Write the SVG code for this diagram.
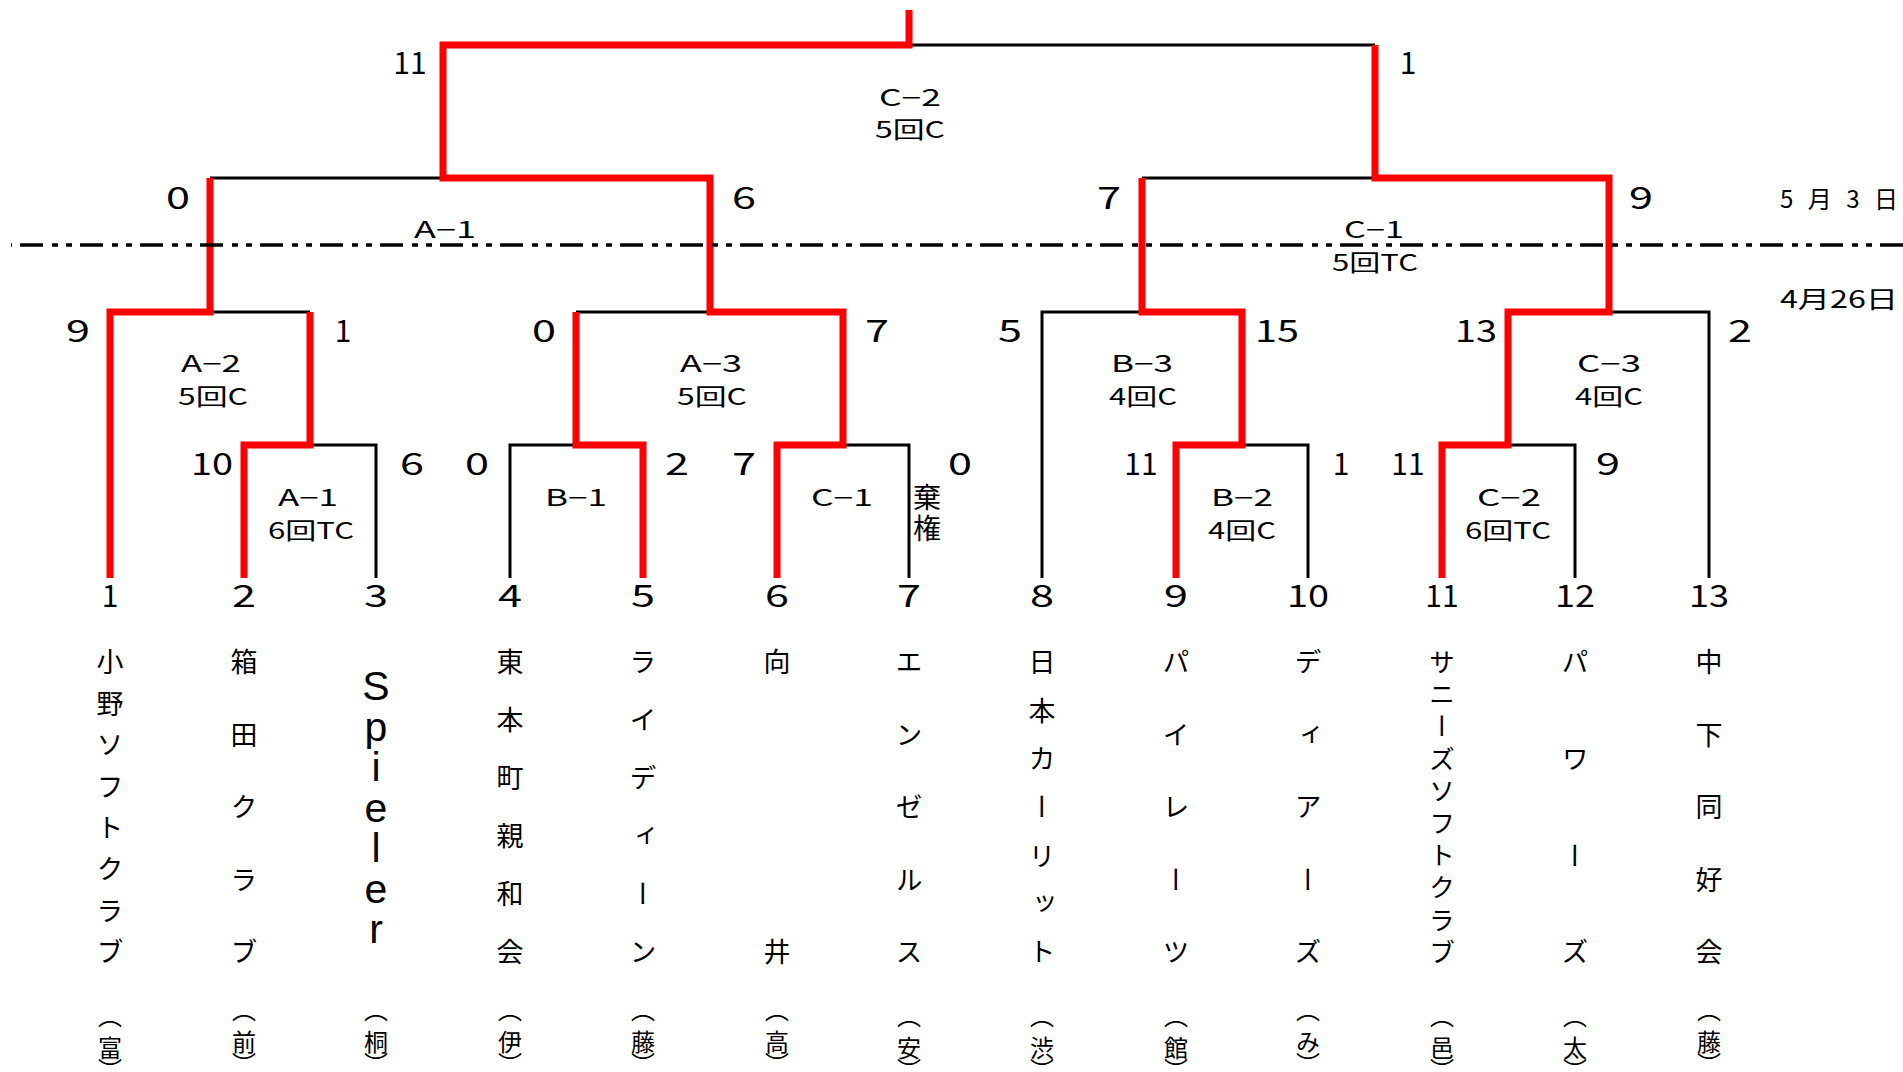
<svg xmlns="http://www.w3.org/2000/svg" width="1903" height="1072" viewBox="0 0 1903 1072">
<style>
.bk{fill:none;stroke:#000;stroke-width:3;stroke-linejoin:miter;stroke-linecap:butt}
.rd{fill:none;stroke:#ff0000;stroke-width:7;stroke-linejoin:miter;stroke-linecap:butt}
.dl{fill:none;stroke:#000;stroke-width:3.5;stroke-dasharray:23 9 6 8 6 8;stroke-dashoffset:51}
text{font-family:"Noto Sans CJK JP","Noto Sans",sans-serif;fill:#000}
.sc{font-size:30px;text-anchor:middle;dominant-baseline:central}
.lb{font-size:23px;text-anchor:middle;dominant-baseline:central}
.dt{font-size:24px;dominant-baseline:central}
.nm{font-size:27px;writing-mode:vertical-rl}
.nm2{font-size:26px;writing-mode:vertical-rl}
.pr{font-size:24px;writing-mode:vertical-rl}
.lt{font-family:"Liberation Sans",Arial,sans-serif;font-size:41px;text-anchor:middle}
.kk{font-size:28px;text-anchor:middle;dominant-baseline:central}
</style>

<g id="connectors">
  <g id="black-lines">
    <polyline class="bk" points="909,45 1375,45"/>
    <polyline class="bk" points="210,178 443,178"/>
    <polyline class="bk" points="1142,178 1375,178"/>
    <polyline class="bk" points="210,312 310,312"/>
    <polyline class="bk" points="576,312 710,312"/>
    <polyline class="bk" points="1042,578 1042,312 1142,312"/>
    <polyline class="bk" points="1609,312 1709,312 1709,578"/>
    <polyline class="bk" points="310,445 376,445 376,578"/>
    <polyline class="bk" points="510,578 510,445 576,445"/>
    <polyline class="bk" points="843,445 909,445 909,578"/>
    <polyline class="bk" points="1242,445 1308,445 1308,578"/>
    <polyline class="bk" points="1508,445 1575,445 1575,578"/>
  </g>
  <g id="red-lines">
    <polyline class="rd" points="110,578 110,312 210,312 210,178"/>
    <polyline class="rd" points="244,578 244,445 310,445 310,312"/>
    <polyline class="rd" points="643,578 643,445 576,445 576,312"/>
    <polyline class="rd" points="777,578 777,445 843,445 843,312 710,312 710,178 443,178 443,45 909,45 909,10"/>
    <polyline class="rd" points="1176,578 1176,445 1242,445 1242,312 1142,312 1142,178"/>
    <polyline class="rd" points="1442,578 1442,445 1508,445 1508,312 1609,312 1609,178 1375,178 1375,45"/>
  </g>
  <line id="date-divider" class="dl" x1="11" y1="245" x2="1903" y2="245"/>
</g>

<g id="dates">
  <text class="dt" x="1780" y="197" textLength="118" lengthAdjust="spacing">5月3日</text>
  <text class="dt" x="1780" y="297" textLength="118" lengthAdjust="spacingAndGlyphs">4月26日</text>
</g>

<g id="match-final">
  <text class="sc" x="410" y="61">11</text>
  <text class="sc" x="1408" y="61">1</text>
  <text class="lb" x="910" y="96" textLength="62" lengthAdjust="spacingAndGlyphs">C−2</text>
  <text class="lb" x="910" y="128" textLength="70" lengthAdjust="spacingAndGlyphs">5回C</text>
</g>
<g id="match-sf1">
  <text class="sc" x="178" y="196" textLength="24" lengthAdjust="spacingAndGlyphs">0</text>
  <text class="sc" x="744" y="196" textLength="24" lengthAdjust="spacingAndGlyphs">6</text>
  <text class="lb" x="445" y="228" textLength="62" lengthAdjust="spacingAndGlyphs">A−1</text>
</g>
<g id="match-sf2">
  <text class="sc" x="1109" y="196" textLength="24" lengthAdjust="spacingAndGlyphs">7</text>
  <text class="sc" x="1641" y="196" textLength="24" lengthAdjust="spacingAndGlyphs">9</text>
  <text class="lb" x="1374" y="228" textLength="60" lengthAdjust="spacingAndGlyphs">C−1</text>
  <text class="lb" x="1375" y="261" textLength="86" lengthAdjust="spacingAndGlyphs">5回TC</text>
</g>
<g id="match-qf1">
  <text class="sc" x="78" y="329" textLength="24" lengthAdjust="spacingAndGlyphs">9</text>
  <text class="sc" x="343" y="329">1</text>
  <text class="lb" x="211" y="362" textLength="60" lengthAdjust="spacingAndGlyphs">A−2</text>
  <text class="lb" x="213" y="395" textLength="70" lengthAdjust="spacingAndGlyphs">5回C</text>
</g>
<g id="match-qf2">
  <text class="sc" x="544" y="329" textLength="24" lengthAdjust="spacingAndGlyphs">0</text>
  <text class="sc" x="877" y="329" textLength="24" lengthAdjust="spacingAndGlyphs">7</text>
  <text class="lb" x="711" y="362" textLength="62" lengthAdjust="spacingAndGlyphs">A−3</text>
  <text class="lb" x="712" y="395" textLength="70" lengthAdjust="spacingAndGlyphs">5回C</text>
</g>
<g id="match-qf3">
  <text class="sc" x="1010" y="329" textLength="24" lengthAdjust="spacingAndGlyphs">5</text>
  <text class="sc" x="1277" y="329" textLength="44" lengthAdjust="spacingAndGlyphs">15</text>
  <text class="lb" x="1142" y="362" textLength="62" lengthAdjust="spacingAndGlyphs">B−3</text>
  <text class="lb" x="1143" y="395" textLength="68" lengthAdjust="spacingAndGlyphs">4回C</text>
</g>
<g id="match-qf4">
  <text class="sc" x="1476" y="329" textLength="42" lengthAdjust="spacingAndGlyphs">13</text>
  <text class="sc" x="1740" y="329" textLength="24" lengthAdjust="spacingAndGlyphs">2</text>
  <text class="lb" x="1609" y="362" textLength="64" lengthAdjust="spacingAndGlyphs">C−3</text>
  <text class="lb" x="1609" y="395" textLength="68" lengthAdjust="spacingAndGlyphs">4回C</text>
</g>
<g id="match-r1a">
  <text class="sc" x="212" y="462" textLength="42" lengthAdjust="spacingAndGlyphs">10</text>
  <text class="sc" x="412" y="462" textLength="24" lengthAdjust="spacingAndGlyphs">6</text>
  <text class="lb" x="308" y="496" textLength="60" lengthAdjust="spacingAndGlyphs">A−1</text>
  <text class="lb" x="311" y="529" textLength="86" lengthAdjust="spacingAndGlyphs">6回TC</text>
</g>
<g id="match-r1b">
  <text class="sc" x="477" y="462" textLength="24" lengthAdjust="spacingAndGlyphs">0</text>
  <text class="sc" x="677" y="462" textLength="24" lengthAdjust="spacingAndGlyphs">2</text>
  <text class="lb" x="576" y="496" textLength="62" lengthAdjust="spacingAndGlyphs">B−1</text>
</g>
<g id="match-r1c">
  <text class="sc" x="744" y="462" textLength="24" lengthAdjust="spacingAndGlyphs">7</text>
  <text class="sc" x="960" y="462" textLength="24" lengthAdjust="spacingAndGlyphs">0</text>
  <text class="lb" x="842" y="496" textLength="62" lengthAdjust="spacingAndGlyphs">C−1</text>
  <text class="kk" x="927 927" y="496 527">棄権</text>
</g>
<g id="match-r1d">
  <text class="sc" x="1141" y="462">11</text>
  <text class="sc" x="1341" y="462">1</text>
  <text class="lb" x="1242" y="496" textLength="62" lengthAdjust="spacingAndGlyphs">B−2</text>
  <text class="lb" x="1242" y="529" textLength="68" lengthAdjust="spacingAndGlyphs">4回C</text>
</g>
<g id="match-r1e">
  <text class="sc" x="1408" y="462">11</text>
  <text class="sc" x="1608" y="462" textLength="24" lengthAdjust="spacingAndGlyphs">9</text>
  <text class="lb" x="1509" y="496" textLength="64" lengthAdjust="spacingAndGlyphs">C−2</text>
  <text class="lb" x="1508" y="529" textLength="86" lengthAdjust="spacingAndGlyphs">6回TC</text>
</g>

<g id="team-1">
  <text class="sc" x="110" y="594">1</text>
  <text class="nm" x="110" y="648.5 689.9 731.4 772.8 814.2 855.6 897.1 938.5">小野ソフトクラブ</text>
  <text class="pr" x="110" y="1004 1036 1058">（富）</text>
</g>
<g id="team-2">
  <text class="sc" x="244" y="594" textLength="24" lengthAdjust="spacingAndGlyphs">2</text>
  <text class="nm" x="244" y="648.5 721 793.5 866 938.5">箱田クラブ</text>
  <text class="pr" x="244" y="998 1030 1052">（前）</text>
</g>
<g id="team-3">
  <text class="sc" x="376" y="594" textLength="24" lengthAdjust="spacingAndGlyphs">3</text>
  <text class="lt" x="376 376 376 376 376 376 376" y="700 740.5 781 821.5 862 902.5 943">Spieler</text>
  <text class="pr" x="376" y="998 1030 1052">（桐）</text>
</g>
<g id="team-4">
  <text class="sc" x="510" y="594" textLength="24" lengthAdjust="spacingAndGlyphs">4</text>
  <text class="nm" x="510" y="648.5 706.5 764.5 822.5 880.5 938.5">東本町親和会</text>
  <text class="pr" x="510" y="998 1030 1052">（伊）</text>
</g>
<g id="team-5">
  <text class="sc" x="643" y="594" textLength="24" lengthAdjust="spacingAndGlyphs">5</text>
  <text class="nm" x="643" y="648.5 706.5 764.5 822.5 880.5 938.5">ライディーン</text>
  <text class="pr" x="643" y="998 1030 1052">（藤）</text>
</g>
<g id="team-6">
  <text class="sc" x="777" y="594" textLength="24" lengthAdjust="spacingAndGlyphs">6</text>
  <text class="nm" x="777" y="648.5 938.5">向井</text>
  <text class="pr" x="777" y="998 1030 1052">（高）</text>
</g>
<g id="team-7">
  <text class="sc" x="909" y="594" textLength="24" lengthAdjust="spacingAndGlyphs">7</text>
  <text class="nm" x="909" y="648.5 721 793.5 866 938.5">エンゼルス</text>
  <text class="pr" x="909" y="1004 1036 1058">（安）</text>
</g>
<g id="team-8">
  <text class="sc" x="1042" y="594" textLength="24" lengthAdjust="spacingAndGlyphs">8</text>
  <text class="nm" x="1042" y="648.5 696.8 745.2 793.5 841.8 890.2 938.5">日本カーリット</text>
  <text class="pr" x="1042" y="1004 1036 1058">（渋）</text>
</g>
<g id="team-9">
  <text class="sc" x="1176" y="594" textLength="24" lengthAdjust="spacingAndGlyphs">9</text>
  <text class="nm" x="1176" y="648.5 721 793.5 866 938.5">パイレーツ</text>
  <text class="pr" x="1176" y="1004 1036 1058">（館）</text>
</g>
<g id="team-10">
  <text class="sc" x="1308" y="594" textLength="42" lengthAdjust="spacingAndGlyphs">10</text>
  <text class="nm" x="1308" y="648.5 721 793.5 866 938.5">ディアーズ</text>
  <text class="pr" x="1308" y="998 1030 1052">（み）</text>
</g>
<g id="team-11">
  <text class="sc" x="1442" y="594">11</text>
  <text class="nm2" x="1442" y="649 681.2 713.4 745.7 777.9 810.1 842.3 874.6 906.8 939">サニーズソフトクラブ</text>
  <text class="pr" x="1442" y="1004 1036 1058">（邑）</text>
</g>
<g id="team-12">
  <text class="sc" x="1575" y="594" textLength="40" lengthAdjust="spacingAndGlyphs">12</text>
  <text class="nm" x="1575" y="648.5 745.2 841.8 938.5">パワーズ</text>
  <text class="pr" x="1575" y="1004 1036 1058">（太）</text>
</g>
<g id="team-13">
  <text class="sc" x="1709" y="594" textLength="40" lengthAdjust="spacingAndGlyphs">13</text>
  <text class="nm" x="1709" y="648.5 721 793.5 866 938.5">中下同好会</text>
  <text class="pr" x="1709" y="998 1030 1052">（藤）</text>
</g>
</svg>
